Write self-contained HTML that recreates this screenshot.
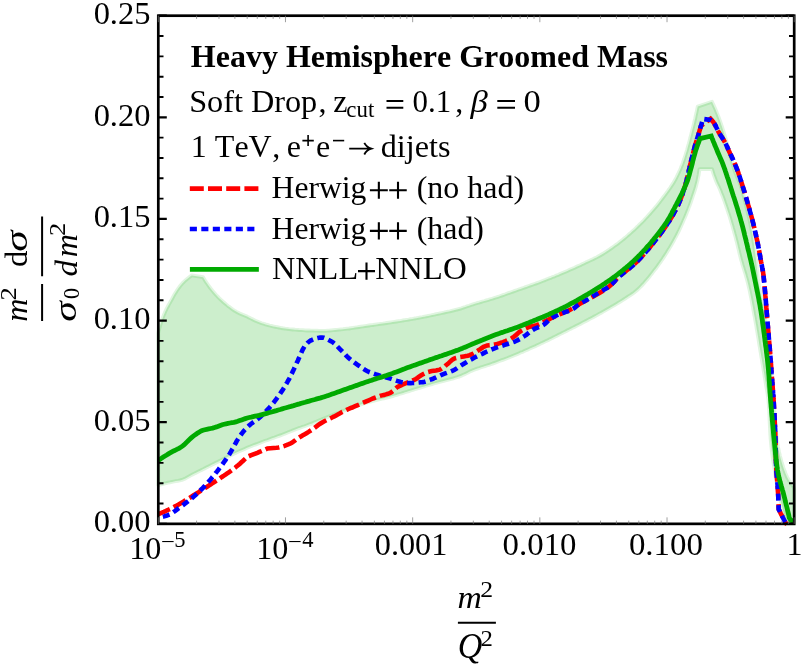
<!DOCTYPE html>
<html><head><meta charset="utf-8"><title>plot</title>
<style>html,body{margin:0;padding:0;background:#fff}svg{display:block;will-change:transform}text{font-kerning:none;font-family:"Liberation Serif",serif;fill:#000}</style></head>
<body>
<svg width="802" height="664" viewBox="0 0 802 664">
<rect width="802" height="664" fill="#fff"/>
<clipPath id="cp"><rect x="155.30" y="12.70" width="641.90" height="514.65"/></clipPath>
<g clip-path="url(#cp)">
<polygon points="158.3,333.0 158.7,331.0 159.2,329.0 159.8,327.0 160.3,325.0 161.0,323.0 161.6,321.1 162.3,319.1 163.0,317.2 163.7,315.3 164.5,313.4 165.3,311.5 166.2,309.7 167.1,307.8 168.1,306.0 169.1,304.2 170.1,302.4 171.1,300.6 172.1,298.8 173.1,296.9 174.1,295.1 175.2,293.3 176.3,291.6 177.4,289.8 178.6,288.1 179.8,286.5 181.0,284.9 182.3,283.4 183.8,282.0 185.2,280.6 186.8,279.2 188.4,277.9 190.1,276.6 191.8,275.4 203.1,277.2 204.1,278.9 205.2,280.7 206.3,282.4 207.4,284.0 208.6,285.7 209.7,287.3 211.0,288.9 212.2,290.4 213.5,292.0 214.8,293.5 216.1,295.0 217.5,296.4 218.9,297.9 220.4,299.3 221.8,300.6 223.3,302.0 224.8,303.3 226.4,304.6 227.9,305.9 229.5,307.1 231.1,308.3 232.7,309.5 234.4,310.6 236.1,311.6 237.9,312.6 239.7,313.4 241.5,314.2 243.4,315.0 245.2,315.8 247.1,316.6 248.9,317.5 250.7,318.4 252.5,319.3 254.3,320.2 256.1,321.1 257.9,321.8 259.8,322.5 261.7,323.2 263.6,323.8 265.5,324.4 267.4,324.9 269.4,325.5 271.3,325.9 273.3,326.4 275.2,326.8 277.2,327.2 279.2,327.6 281.2,328.0 283.1,328.3 285.1,328.6 287.1,328.8 289.1,329.1 291.1,329.3 293.1,329.5 295.1,329.7 297.1,329.8 299.1,330.0 301.1,330.1 303.1,330.2 305.1,330.4 307.1,330.5 309.1,330.5 311.1,330.6 313.1,330.6 315.1,330.7 317.1,330.7 319.1,330.8 321.1,330.8 323.1,330.8 325.1,330.8 327.1,330.7 329.1,330.6 331.1,330.4 333.1,330.2 335.1,330.0 337.1,329.8 339.1,329.6 341.1,329.4 343.1,329.2 345.1,328.9 347.1,328.7 349.1,328.5 351.1,328.2 353.1,327.9 355.0,327.6 357.0,327.3 359.0,327.0 361.0,326.7 363.0,326.4 365.0,326.1 366.9,325.8 368.9,325.5 370.9,325.2 372.9,325.0 374.9,324.7 376.9,324.4 378.9,324.1 380.8,323.8 382.8,323.6 384.8,323.3 386.8,323.0 388.8,322.7 390.8,322.4 392.7,322.1 394.7,321.8 396.7,321.5 398.7,321.2 400.7,320.9 402.7,320.5 404.6,320.2 406.6,319.9 408.6,319.6 410.6,319.2 412.5,318.9 414.5,318.5 416.5,318.2 418.5,317.8 420.4,317.4 422.4,317.1 424.4,316.7 426.3,316.3 428.3,315.9 430.3,315.5 432.2,315.1 434.2,314.7 436.2,314.2 438.1,313.8 440.1,313.4 442.0,313.0 444.0,312.6 446.0,312.1 447.9,311.7 449.9,311.3 451.8,310.8 453.8,310.3 455.7,309.8 457.7,309.3 459.6,308.8 461.5,308.3 463.4,307.6 465.3,307.0 467.2,306.3 469.1,305.7 471.0,305.0 472.9,304.4 474.8,303.8 476.7,303.2 478.7,302.7 480.6,302.1 482.5,301.5 484.5,301.0 486.4,300.4 488.3,299.9 490.2,299.3 492.2,298.7 494.1,298.1 496.0,297.5 497.9,296.9 499.8,296.3 501.7,295.6 503.6,294.9 505.5,294.3 507.3,293.6 509.2,292.9 511.1,292.2 513.0,291.6 514.9,290.9 516.8,290.2 518.7,289.5 520.6,288.9 522.5,288.2 524.4,287.6 526.3,286.9 528.1,286.2 530.0,285.6 531.9,284.9 533.8,284.2 535.7,283.6 537.6,282.9 539.5,282.2 541.3,281.5 543.2,280.8 545.1,280.1 547.0,279.3 548.8,278.6 550.7,277.9 552.6,277.1 554.4,276.4 556.3,275.6 558.1,274.9 560.0,274.1 561.8,273.3 563.7,272.5 565.5,271.7 567.4,270.9 569.2,270.1 571.0,269.3 572.9,268.5 574.7,267.7 576.5,266.8 578.3,266.0 580.2,265.2 582.0,264.3 583.8,263.5 585.6,262.6 587.4,261.8 589.2,260.9 591.1,260.0 592.9,259.2 594.7,258.3 596.5,257.4 598.2,256.5 600.0,255.5 601.7,254.5 603.4,253.5 605.1,252.4 606.8,251.3 608.5,250.2 610.1,249.1 611.8,247.9 613.4,246.7 615.1,245.5 616.7,244.4 618.3,243.2 619.8,241.9 621.4,240.7 623.0,239.5 624.5,238.2 626.1,236.9 627.6,235.6 629.1,234.3 630.7,232.9 632.1,231.6 633.6,230.3 635.1,228.9 636.5,227.5 638.0,226.1 639.4,224.7 640.8,223.3 642.3,221.9 643.7,220.5 645.0,219.0 646.4,217.5 647.8,216.1 649.1,214.6 650.5,213.1 651.8,211.6 653.1,210.1 654.4,208.5 655.7,207.0 657.0,205.5 658.2,203.9 659.5,202.3 660.7,200.7 661.9,199.1 663.1,197.5 664.3,195.9 665.5,194.3 666.7,192.7 667.9,191.1 669.0,189.4 670.2,187.8 671.3,186.1 672.4,184.4 673.5,182.7 674.5,181.0 675.5,179.3 676.4,177.5 677.3,175.7 678.2,173.9 679.0,172.1 679.9,170.2 680.7,168.4 681.4,166.5 682.2,164.7 682.9,162.8 683.5,160.9 684.2,159.0 684.8,157.1 685.4,155.2 686.0,153.3 686.6,151.4 687.2,149.5 687.7,147.5 688.2,145.6 688.8,143.6 689.3,141.7 689.8,139.8 690.3,137.8 690.8,135.9 691.3,134.0 691.8,132.0 692.3,130.1 692.8,128.1 693.3,126.2 693.8,124.2 694.3,122.3 694.7,120.3 695.2,118.4 695.6,116.4 696.0,114.5 696.5,112.5 696.9,110.5 697.3,108.6 697.7,106.6 712.0,101.7 712.8,103.5 713.7,105.4 714.5,107.2 715.3,109.0 716.1,110.9 716.8,112.7 717.6,114.6 718.3,116.5 719.0,118.3 719.7,120.2 720.4,122.1 721.0,124.0 721.7,125.9 722.3,127.8 722.9,129.7 723.5,131.6 724.1,133.5 724.6,135.4 725.2,137.4 725.8,139.3 726.4,141.2 726.9,143.1 727.4,145.1 728.0,147.0 728.5,148.9 729.0,150.9 729.5,152.8 730.0,154.7 730.5,156.7 731.0,158.6 731.6,160.6 732.1,162.5 732.7,164.4 733.2,166.3 733.8,168.2 734.4,170.1 735.1,172.0 735.8,173.9 736.6,175.8 737.3,177.6 738.1,179.5 738.9,181.3 739.6,183.2 740.3,185.1 741.0,186.9 741.6,188.8 742.2,190.8 742.7,192.7 743.3,194.6 743.8,196.5 744.3,198.5 744.8,200.4 745.3,202.4 745.7,204.3 746.2,206.3 746.7,208.2 747.1,210.2 747.6,212.1 748.1,214.1 748.6,216.0 749.0,218.0 749.5,219.9 749.9,221.9 750.3,223.8 750.7,225.8 751.1,227.8 751.5,229.7 751.9,231.7 752.2,233.7 752.6,235.6 752.9,237.6 753.2,239.6 753.5,241.6 753.8,243.5 754.1,245.5 754.4,247.5 754.7,249.5 754.9,251.5 755.2,253.5 755.4,255.5 755.7,257.4 755.9,259.4 756.2,261.4 756.4,263.4 756.6,265.4 756.8,267.4 757.0,269.4 757.2,271.4 757.4,273.4 757.6,275.4 757.8,277.4 758.0,279.4 758.3,281.3 758.7,283.3 759.0,285.3 759.4,287.2 759.8,289.2 760.2,291.2 760.6,293.1 761.0,295.1 761.4,297.1 761.8,299.0 762.2,301.0 762.6,303.0 763.0,304.9 763.3,306.9 763.6,308.9 764.0,310.8 764.3,312.8 764.6,314.8 764.9,316.8 765.2,318.8 765.5,320.8 765.7,322.7 766.0,324.7 766.3,326.7 766.6,328.7 766.8,330.7 767.1,332.7 767.3,334.7 767.6,336.6 767.8,338.6 768.1,340.6 768.3,342.6 768.5,344.6 768.8,346.6 769.0,348.6 769.2,350.6 769.4,352.6 769.6,354.6 769.8,356.5 770.0,358.5 770.2,360.5 770.4,362.5 770.6,364.5 770.8,366.5 771.0,368.5 771.1,370.5 771.3,372.5 771.5,374.5 771.6,376.5 771.8,378.5 772.0,380.5 772.1,382.5 772.3,384.5 772.4,386.5 772.6,388.5 772.7,390.5 772.9,392.5 773.1,394.5 773.2,396.5 773.4,398.5 773.5,400.5 773.7,402.5 773.9,404.4 774.0,406.4 774.2,408.4 774.3,410.4 774.5,412.4 774.6,414.4 774.8,416.4 774.9,418.4 775.1,420.4 775.3,422.4 775.4,424.4 775.6,426.4 775.8,428.4 776.0,430.4 776.2,432.4 776.4,434.4 776.6,436.4 776.8,438.4 777.0,440.4 777.3,442.3 777.6,444.3 777.9,446.3 778.3,448.3 778.7,450.2 779.1,452.2 779.6,454.2 780.0,456.1 780.5,458.1 781.1,460.1 781.6,462.0 782.2,463.9 782.8,465.9 783.4,467.8 784.1,469.7 784.8,471.5 785.5,473.4 786.3,475.2 787.0,477.0 788.0,478.7 789.0,480.5 790.0,482.1 791.2,483.8 792.4,485.5 793.6,487.1 794.2,488.9 794.2,490.7 794.2,492.5 794.2,494.4 794.2,496.3 794.2,498.2 794.2,500.2 794.2,502.1 794.2,504.1 794.2,506.2 794.2,508.2 794.2,510.3 794.2,512.5 794.2,514.7 794.2,516.9 794.2,519.2 794.2,521.5 794.2,523.9 786.0,523.9 785.6,521.9 785.2,519.9 784.8,517.9 784.3,516.0 783.9,514.0 783.5,512.1 783.0,510.1 782.6,508.1 782.1,506.2 781.6,504.2 781.0,502.3 780.5,500.4 780.0,498.4 779.5,496.5 779.0,494.5 778.6,492.6 778.1,490.6 777.7,488.6 777.3,486.7 777.0,484.7 776.6,482.7 776.3,480.7 775.9,478.8 775.6,476.8 775.3,474.8 775.0,472.8 774.7,470.8 774.4,468.8 774.1,466.8 773.8,464.8 773.5,462.9 773.2,460.9 772.9,458.9 772.6,456.9 772.4,454.9 772.1,452.9 771.8,450.9 771.6,448.9 771.4,446.9 771.2,444.9 771.0,442.9 770.8,440.9 770.6,438.9 770.5,436.9 770.3,434.9 770.2,432.9 770.1,430.9 770.0,428.9 769.9,426.9 769.8,424.9 769.7,422.9 769.6,420.8 769.5,418.8 769.5,416.8 769.4,414.8 769.3,412.8 769.2,410.8 769.0,408.8 768.9,406.8 768.8,404.8 768.6,402.8 768.5,400.8 768.3,398.8 768.0,396.8 767.7,394.8 767.4,392.8 767.1,390.8 766.7,388.9 766.3,386.9 766.0,384.9 765.7,382.9 765.4,380.9 765.1,378.9 764.7,377.0 764.4,375.0 764.1,373.0 763.7,371.0 763.4,369.0 763.1,367.1 762.8,365.1 762.4,363.1 762.1,361.1 761.8,359.1 761.4,357.1 761.1,355.2 760.8,353.2 760.4,351.2 760.1,349.2 759.8,347.2 759.4,345.2 759.1,343.3 758.8,341.3 758.5,339.3 758.2,337.3 757.8,335.3 757.5,333.3 757.2,331.4 756.8,329.4 756.5,327.4 756.2,325.4 755.8,323.4 755.5,321.5 755.1,319.5 754.8,317.5 754.4,315.5 754.0,313.5 753.7,311.6 753.3,309.6 753.0,307.6 752.6,305.6 752.2,303.7 751.9,301.7 751.5,299.7 751.1,297.7 750.7,295.8 750.3,293.8 749.9,291.8 749.5,289.9 749.0,287.9 748.6,285.9 748.1,284.0 747.6,282.0 747.1,280.1 746.6,278.2 746.0,276.2 745.5,274.3 744.9,272.4 744.3,270.5 743.7,268.5 743.1,266.6 742.5,264.7 742.0,262.8 741.4,260.8 740.9,258.9 740.4,256.9 739.9,255.0 739.4,253.0 739.0,251.1 738.5,249.1 738.0,247.2 737.6,245.2 737.1,243.3 736.6,241.3 736.1,239.4 735.6,237.4 735.1,235.5 734.5,233.5 734.0,231.6 733.5,229.7 732.9,227.7 732.4,225.8 731.8,223.9 731.2,221.9 730.7,220.0 730.1,218.1 729.5,216.2 728.9,214.3 728.2,212.3 727.6,210.4 727.0,208.5 726.3,206.6 725.7,204.7 725.0,202.8 724.4,200.9 723.7,199.0 723.0,197.1 722.3,195.3 721.5,193.4 720.8,191.5 720.1,189.7 719.2,187.8 718.4,186.0 717.5,184.2 716.7,182.4 715.9,180.5 715.2,178.6 714.5,176.8 713.8,174.9 713.2,173.0 712.6,171.0 712.0,169.1 699.5,169.1 699.2,171.1 698.9,173.1 698.6,175.1 698.2,177.0 697.8,179.0 697.4,180.9 696.9,182.9 696.4,184.8 695.9,186.7 695.3,188.7 694.7,190.6 694.1,192.5 693.4,194.4 692.8,196.3 692.2,198.2 691.5,200.1 690.9,202.0 690.2,203.9 689.5,205.8 688.8,207.6 688.1,209.5 687.3,211.4 686.6,213.2 685.9,215.1 685.1,217.0 684.3,218.8 683.5,220.6 682.7,222.5 681.9,224.3 681.1,226.1 680.2,227.9 679.4,229.8 678.5,231.6 677.6,233.4 676.7,235.2 675.8,236.9 674.8,238.7 673.9,240.5 672.9,242.2 671.9,244.0 670.9,245.7 669.9,247.4 668.9,249.1 667.8,250.8 666.8,252.5 665.7,254.2 664.6,255.9 663.5,257.6 662.4,259.3 661.2,260.9 660.1,262.6 658.9,264.2 657.7,265.9 656.6,267.5 655.4,269.1 654.1,270.6 652.9,272.2 651.7,273.8 650.4,275.4 649.2,277.0 647.9,278.5 646.6,280.1 645.3,281.6 643.9,283.2 642.6,284.6 641.2,286.1 639.8,287.5 638.4,288.9 636.9,290.2 635.4,291.5 633.9,292.7 632.2,293.9 630.6,295.0 628.9,296.1 627.2,297.2 625.5,298.3 623.8,299.4 622.1,300.5 620.4,301.6 618.7,302.6 617.0,303.7 615.3,304.7 613.6,305.7 611.8,306.7 610.1,307.7 608.4,308.7 606.6,309.7 604.9,310.7 603.1,311.7 601.4,312.7 599.6,313.6 597.9,314.6 596.1,315.6 594.4,316.5 592.6,317.5 590.8,318.4 589.0,319.3 587.3,320.3 585.5,321.2 583.7,322.1 581.9,323.1 580.2,324.0 578.4,324.9 576.6,325.8 574.8,326.7 573.0,327.6 571.2,328.5 569.4,329.4 567.6,330.3 565.9,331.2 564.1,332.1 562.3,333.0 560.5,333.9 558.7,334.8 556.9,335.7 555.1,336.6 553.3,337.5 551.5,338.4 549.7,339.3 547.9,340.2 546.1,341.0 544.3,341.9 542.5,342.8 540.7,343.6 538.9,344.5 537.1,345.3 535.3,346.2 533.4,347.0 531.6,347.8 529.8,348.6 527.9,349.5 526.1,350.3 524.3,351.1 522.4,351.9 520.6,352.6 518.7,353.4 516.9,354.2 515.0,355.0 513.2,355.7 511.3,356.5 509.5,357.2 507.6,358.0 505.7,358.7 503.9,359.4 502.0,360.1 500.1,360.8 498.2,361.5 496.4,362.2 494.5,362.9 492.6,363.6 490.7,364.2 488.8,364.9 486.9,365.5 485.0,366.1 483.1,366.7 481.2,367.3 479.3,368.0 477.4,368.6 475.5,369.3 473.6,370.0 471.8,370.8 469.9,371.6 468.1,372.5 466.3,373.4 464.5,374.3 462.7,375.1 460.9,375.9 459.0,376.6 457.1,377.2 455.2,377.8 453.3,378.4 451.4,378.9 449.4,379.4 447.5,379.9 445.5,380.4 443.6,380.9 441.6,381.4 439.7,381.9 437.7,382.4 435.8,383.0 433.9,383.5 432.0,384.1 430.0,384.7 428.1,385.2 426.2,385.8 424.3,386.4 422.4,387.0 420.5,387.6 418.5,388.2 416.6,388.7 414.7,389.3 412.8,389.9 410.9,390.5 409.0,391.1 407.0,391.7 405.1,392.3 403.2,392.9 401.3,393.5 399.4,394.0 397.5,394.6 395.5,395.2 393.6,395.8 391.7,396.3 389.8,396.8 387.8,397.3 385.9,397.8 383.9,398.3 382.0,398.7 380.0,399.2 378.1,399.7 376.1,400.1 374.2,400.6 372.2,401.1 370.3,401.6 368.4,402.1 366.4,402.7 364.5,403.3 362.6,403.9 360.7,404.5 358.8,405.2 356.9,405.8 355.1,406.5 353.2,407.2 351.3,407.9 349.4,408.6 347.5,409.3 345.7,410.0 343.8,410.7 341.9,411.4 340.0,412.2 338.2,412.9 336.3,413.6 334.4,414.3 332.6,415.1 330.7,415.8 328.9,416.6 327.0,417.3 325.1,418.1 323.3,418.8 321.4,419.6 319.6,420.3 317.7,421.1 315.9,421.9 314.0,422.6 312.2,423.4 310.3,424.1 308.4,424.8 306.5,425.5 304.6,426.2 302.7,426.8 300.8,427.5 299.0,428.1 297.1,428.8 295.2,429.5 293.3,430.2 291.5,431.0 289.6,431.7 287.7,432.5 285.9,433.2 284.0,434.0 282.2,434.7 280.3,435.4 278.4,436.1 276.5,436.8 274.6,437.5 272.7,438.1 270.9,438.8 269.0,439.5 267.1,440.2 265.2,440.8 263.3,441.5 261.4,442.2 259.6,442.9 257.7,443.7 255.8,444.4 254.0,445.1 252.1,445.8 250.2,446.6 248.4,447.3 246.5,448.1 244.7,448.9 242.8,449.7 241.0,450.5 239.2,451.3 237.4,452.1 235.5,453.0 233.7,453.8 231.9,454.7 230.1,455.6 228.3,456.5 226.5,457.4 224.8,458.3 223.0,459.2 221.2,460.1 219.4,461.0 217.6,461.9 215.8,462.8 214.0,463.7 212.2,464.6 210.4,465.5 208.6,466.4 206.8,467.3 205.0,468.2 203.3,469.1 201.5,470.0 199.7,470.9 197.9,471.8 196.1,472.7 194.3,473.6 192.5,474.5 190.7,475.4 189.0,476.4 187.2,477.4 185.4,478.4 183.6,479.2 181.8,479.9 179.9,480.4 177.9,480.8 175.9,481.1 173.9,481.5 172.0,481.9 170.0,482.3 168.0,482.7 166.1,483.2 164.1,483.6 162.2,484.1 160.2,484.6 158.3,485.1" fill="#00aa00" fill-opacity="0.2" stroke="#00aa00" stroke-opacity="0.12" stroke-width="3.8" stroke-linejoin="round"/>
<polyline points="158.3,514.2 160.2,513.4 162.0,512.7 163.9,511.9 165.7,511.0 167.5,510.2 169.3,509.3 171.1,508.5 172.9,507.6 174.7,506.6 176.4,505.7 178.2,504.7 179.9,503.7 181.6,502.7 183.4,501.6 185.1,500.6 186.8,499.6 188.5,498.5 190.2,497.5 191.9,496.4 193.6,495.3 195.3,494.3 197.0,493.2 198.7,492.1 200.3,491.0 202.0,489.9 203.7,488.8 205.4,487.7 207.1,486.7 208.8,485.6 210.5,484.5 212.2,483.4 213.9,482.3 215.5,481.3 217.2,480.2 218.9,479.1 220.5,477.9 222.2,476.8 223.9,475.7 225.5,474.6 227.2,473.4 228.8,472.3 230.5,471.1 232.1,469.9 233.7,468.7 235.3,467.5 236.8,466.3 238.4,465.0 239.9,463.7 241.4,462.3 242.9,461.0 244.3,459.6 245.8,458.2 247.2,456.8 249.2,456.0 251.3,455.2 253.3,454.4 255.4,453.6 257.4,452.8 259.4,451.9 261.4,451.1 263.5,450.2 265.5,449.4 267.5,448.5 276.6,447.8 278.6,447.5 280.6,447.0 282.6,446.5 284.5,445.9 286.4,445.2 288.2,444.5 290.0,443.7 291.8,442.8 293.4,441.7 295.1,440.5 296.7,439.3 298.3,438.1 300.0,437.0 301.7,436.0 303.4,434.9 305.2,433.9 306.9,432.9 308.6,431.9 310.3,430.8 312.0,429.7 313.6,428.5 315.2,427.3 316.8,426.1 318.4,424.9 320.1,423.8 321.8,422.7 323.5,421.7 325.3,420.8 327.1,419.9 328.9,419.0 330.7,418.2 332.5,417.3 334.3,416.4 336.1,415.4 337.8,414.5 339.6,413.5 341.3,412.5 343.1,411.6 344.9,410.7 346.7,409.8 348.5,409.0 350.4,408.2 352.2,407.5 354.1,406.7 355.9,405.9 357.8,405.1 359.6,404.3 361.4,403.5 363.3,402.7 365.1,401.9 366.9,401.1 368.8,400.3 370.6,399.5 372.5,398.7 374.3,398.0 376.2,397.3 378.1,396.6 380.0,395.9 381.9,395.4 383.9,394.9 385.9,394.4 387.8,393.8 389.7,393.1 391.3,392.3 392.9,391.0 394.4,389.6 395.9,388.2 397.5,387.0 399.2,386.1 401.1,385.3 402.9,384.5 404.8,383.7 406.6,382.9 408.5,382.2 410.4,381.4 412.3,380.7 414.1,379.9 415.9,379.0 417.5,377.9 419.1,376.6 420.8,375.5 422.5,374.5 424.3,373.6 426.1,372.7 428.0,372.0 429.9,371.5 431.9,371.1 433.9,370.8 436.0,370.5 437.9,370.1 439.8,369.6 441.5,368.8 443.2,367.7 444.8,366.4 446.3,365.0 447.9,363.8 449.4,362.3 450.9,360.9 452.4,359.6 454.1,358.7 455.9,358.0 457.9,357.5 459.9,357.0 461.9,356.7 463.9,356.4 465.9,356.1 467.8,355.8 469.7,355.2 471.5,354.4 473.3,353.4 475.0,352.4 476.8,351.4 478.5,350.3 480.2,349.2 481.9,348.0 483.6,346.9 485.4,346.1 487.2,345.6 489.2,345.2 491.2,345.0 493.2,344.7 495.2,344.4 497.2,344.0 499.1,343.4 501.0,342.8 502.9,342.2 504.8,341.5 506.6,340.7 508.5,339.9 510.3,339.0 512.0,338.0 513.7,336.9 515.3,335.7 516.8,334.3 518.2,332.9 519.8,331.7 521.5,330.6 523.2,329.6 525.0,328.7 526.9,327.8 528.7,327.1 530.6,326.6 532.6,326.2 534.6,325.8 536.5,325.2 538.4,324.5 540.2,323.7 542.0,322.8 543.8,321.9 545.6,321.0 547.4,320.2 549.2,319.2 551.0,318.3 552.8,317.4 554.6,316.5 556.4,315.7 558.2,314.9 560.1,314.1 561.9,313.3 563.7,312.5 565.6,311.7 567.5,311.0 569.3,310.2 571.1,309.3 572.9,308.4 574.6,307.3 576.2,306.1 577.9,305.0 579.6,303.9 581.3,303.0 583.1,302.0 584.8,301.1 586.6,300.2 588.4,299.2 590.2,298.3 591.9,297.3 593.7,296.3 595.4,295.3 597.2,294.3 598.9,293.3 600.6,292.2 602.3,291.2 604.0,290.1 605.7,289.0 607.3,287.9 608.9,286.7 610.5,285.4 611.9,284.0 613.3,282.6 614.7,281.1 616.0,279.6 617.4,278.2 618.9,276.8 620.4,275.5 621.9,274.2 623.5,272.9 625.0,271.7 626.6,270.4 628.2,269.2 629.8,267.9 631.4,266.7 632.9,265.4 634.4,264.1 635.9,262.7 637.3,261.3 638.7,259.9 640.1,258.5 641.4,257.0 642.8,255.5 644.1,254.0 645.4,252.5 646.7,251.0 648.0,249.4 649.3,247.9 650.6,246.3 651.8,244.7 653.1,243.2 654.3,241.6 655.6,240.1 656.8,238.5 658.1,236.9 659.3,235.3 660.5,233.7 661.7,232.1 662.8,230.5 664.0,228.8 665.2,227.2 666.3,225.5 667.4,223.9 668.5,222.2 669.6,220.5 670.6,218.8 671.7,217.1 672.7,215.3 673.7,213.6 674.6,211.8 675.6,210.1 676.5,208.3 677.4,206.5 678.3,204.7 679.1,202.9 679.9,201.0 680.6,199.2 681.3,197.3 682.0,195.4 682.7,193.5 683.3,191.6 683.9,189.7 684.5,187.8 685.1,185.9 685.6,183.9 686.2,182.0 686.7,180.1 687.1,178.1 687.6,176.2 688.1,174.2 688.5,172.3 688.9,170.3 689.4,168.3 689.8,166.4 690.3,164.4 690.8,162.5 691.2,160.5 691.7,158.6 692.2,156.6 692.7,154.7 693.2,152.7 693.7,150.8 694.2,148.9 694.7,146.9 695.2,145.0 695.8,143.1 696.4,141.2 697.0,139.2 697.6,137.3 698.2,135.4 698.8,133.5 699.3,131.6 699.9,129.7 700.4,127.7 701.0,125.8 705.2,122.6 710.5,118.9 711.9,120.4 713.2,121.9 714.3,123.6 715.2,125.3 716.1,127.1 717.0,128.9 717.9,130.7 718.9,132.5 719.9,134.2 721.0,135.9 722.1,137.6 723.2,139.3 724.2,141.0 725.2,142.7 726.1,144.5 726.9,146.3 727.7,148.2 728.5,150.0 729.4,151.9 730.2,153.7 731.1,155.5 731.9,157.3 732.8,159.1 733.6,160.9 734.4,162.8 735.2,164.6 735.9,166.5 736.7,168.4 737.4,170.2 738.1,172.1 738.7,174.0 739.4,175.9 740.0,177.8 740.6,179.7 741.2,181.6 741.8,183.5 742.4,185.5 743.0,187.4 743.6,189.3 744.2,191.2 744.8,193.1 745.3,195.1 745.9,197.0 746.5,198.9 747.0,200.8 747.6,202.8 748.1,204.7 748.7,206.6 749.2,208.5 749.8,210.5 750.3,212.4 750.8,214.3 751.4,216.3 751.9,218.2 752.4,220.2 752.9,222.1 753.4,224.0 753.8,226.0 754.3,227.9 754.8,229.9 755.2,231.9 755.7,233.8 756.1,235.8 756.5,237.7 757.0,239.7 757.4,241.6 757.8,243.6 758.2,245.6 758.5,247.6 758.9,249.5 759.3,251.5 759.6,253.5 760.0,255.4 760.3,257.4 760.7,259.4 761.0,261.4 761.4,263.3 761.8,265.3 762.2,267.3 762.5,269.3 762.9,271.2 763.2,273.2 763.4,275.2 763.7,277.2 763.9,279.2 764.1,281.2 764.3,283.2 764.5,285.2 764.6,287.2 764.8,289.2 765.0,291.2 765.2,293.2 765.3,295.2 765.5,297.2 765.7,299.2 765.8,301.2 766.0,303.2 766.2,305.2 766.3,307.2 766.5,309.2 766.6,311.2 766.8,313.2 767.0,315.2 767.1,317.2 767.3,319.2 767.4,321.2 767.6,323.2 767.8,325.2 767.9,327.1 768.1,329.1 768.3,331.1 768.4,333.1 768.6,335.1 768.8,337.1 769.0,339.1 769.1,341.1 769.3,343.1 769.5,345.1 769.7,347.1 769.8,349.1 770.0,351.1 770.1,353.1 770.3,355.1 770.5,357.1 770.6,359.1 770.7,361.1 770.9,363.1 771.0,365.1 771.2,367.1 771.3,369.1 771.5,371.1 771.6,373.1 771.7,375.1 771.9,377.1 772.0,379.1 772.2,381.1 772.3,383.1 772.5,385.1 772.7,387.1 772.8,389.1 773.0,391.1 773.1,393.1 773.3,395.1 773.4,397.1 773.5,399.1 773.7,401.1 773.8,403.1 773.9,405.1 774.0,407.1 774.1,409.1 774.2,411.1 774.3,413.1 774.4,415.1 774.5,417.2 774.6,419.2 774.7,421.2 774.8,423.2 774.9,425.2 775.0,427.2 775.1,429.2 775.2,431.2 775.3,433.2 775.3,435.2 775.4,437.2 775.5,439.2 775.5,441.2 775.6,443.2 775.6,445.2 775.7,447.2 775.7,449.2 775.8,451.2 775.8,453.2 775.9,455.2 775.9,457.2 775.9,459.2 776.0,461.3 776.0,463.3 776.1,465.3 776.2,467.3 776.3,469.3 776.4,471.3 776.5,473.3 776.7,475.3 776.9,477.3 777.1,479.3 777.3,481.3 777.4,483.3 777.6,485.3 777.7,487.3 777.8,489.3 777.9,491.3 778.1,493.3 778.2,495.3 778.3,497.3 778.3,499.3 778.4,501.3 778.5,503.3 778.6,505.3 778.6,507.3 778.7,509.3 779.7,511.2 780.6,513.2 781.6,515.1 782.6,517.1 783.6,519.0 784.6,520.9 785.7,522.8 787.0,524.5" fill="none" stroke="#ff0000" stroke-width="4.6" stroke-dasharray="14 4.2" stroke-dashoffset="1.3" stroke-linejoin="miter"/>
<polyline points="158.3,517.6 160.3,517.3 162.3,516.9 164.3,516.4 166.2,515.8 168.0,515.1 169.8,514.4 171.5,513.4 173.2,512.3 174.9,511.1 176.5,509.9 178.1,508.6 179.7,507.5 181.4,506.3 183.0,505.1 184.6,503.9 186.2,502.7 187.8,501.5 189.4,500.2 190.9,498.9 192.5,497.7 194.0,496.4 195.5,495.0 197.0,493.7 198.4,492.3 199.9,490.9 201.3,489.5 202.7,488.1 204.1,486.6 205.4,485.2 206.8,483.7 208.1,482.2 209.4,480.7 210.8,479.2 212.0,477.6 213.3,476.1 214.6,474.5 215.8,472.9 217.1,471.4 218.3,469.8 219.5,468.2 220.7,466.6 221.9,465.0 223.1,463.3 224.3,461.7 225.4,460.1 226.5,458.4 227.7,456.8 228.8,455.1 229.9,453.4 230.9,451.7 231.9,449.9 232.9,448.2 233.8,446.4 234.8,444.6 235.8,442.9 236.7,441.1 237.8,439.4 238.8,437.7 239.9,436.1 241.1,434.5 242.3,432.9 243.6,431.3 244.9,429.8 246.3,428.3 247.7,426.8 249.1,425.5 250.6,424.2 252.2,423.0 253.9,421.8 255.5,420.7 257.1,419.5 258.7,418.2 260.2,416.9 261.7,415.6 263.1,414.2 264.5,412.7 265.9,411.3 267.3,409.8 268.7,408.4 270.0,406.9 271.3,405.4 272.6,403.8 273.9,402.3 275.1,400.7 276.3,399.1 277.5,397.5 278.7,395.8 279.8,394.2 280.9,392.5 282.0,390.9 283.1,389.2 284.2,387.5 285.2,385.7 286.2,384.0 287.2,382.3 288.2,380.5 289.2,378.8 290.1,377.0 291.0,375.2 291.9,373.4 292.7,371.6 293.6,369.8 294.4,368.0 295.3,366.1 296.1,364.3 296.9,362.5 297.8,360.7 298.6,358.8 299.5,357.0 300.3,355.2 301.1,353.3 301.9,351.4 302.7,349.6 303.7,347.8 304.7,346.2 305.9,344.6 307.3,343.1 308.9,341.7 310.5,340.6 312.2,339.8 314.1,339.0 316.0,338.4 318.1,337.9 320.1,337.6 322.0,337.5 323.9,337.8 325.9,338.5 327.8,339.4 329.6,340.4 331.4,341.4 333.0,342.4 334.5,343.6 336.0,345.0 337.4,346.5 338.8,348.0 340.2,349.4 341.7,350.8 343.1,352.3 344.5,353.7 345.8,355.2 347.2,356.6 348.7,358.0 350.2,359.3 351.7,360.6 353.3,361.8 354.9,363.0 356.6,364.2 358.2,365.3 359.9,366.4 361.5,367.6 363.2,368.7 364.9,369.8 366.6,370.8 368.4,371.7 370.2,372.4 372.1,373.1 374.0,373.8 375.9,374.4 377.9,375.0 379.8,375.6 381.7,376.2 383.6,376.7 385.6,377.2 387.5,377.8 389.4,378.3 391.3,378.9 393.2,379.6 395.1,380.2 397.0,380.9 399.0,381.4 400.9,381.9 402.9,382.3 404.9,382.7 406.8,383.0 408.8,383.1 410.8,383.1 412.8,383.0 414.9,382.9 416.9,382.7 418.9,382.5 420.9,382.3 422.8,382.1 424.7,381.7 426.7,381.1 428.6,380.4 430.5,379.7 432.4,379.0 434.2,378.2 436.1,377.5 437.9,376.6 439.7,375.8 441.5,374.9 443.4,374.1 445.2,373.4 447.1,372.7 449.0,372.0 450.9,371.4 452.8,370.6 454.6,369.8 456.3,368.7 457.9,367.6 459.6,366.4 461.3,365.3 463.0,364.3 464.7,363.2 466.4,362.2 468.1,361.2 469.8,360.1 471.6,359.2 473.3,358.2 475.1,357.3 476.9,356.4 478.7,355.5 480.5,354.6 482.3,353.8 484.1,352.9 485.9,352.0 487.7,351.2 489.6,350.3 491.4,349.5 493.3,348.8 495.1,348.1 497.0,347.4 498.9,346.8 500.8,346.2 502.8,345.6 504.7,344.9 506.6,344.3 508.5,343.7 510.4,343.1 512.3,342.5 514.2,341.8 516.0,341.0 517.8,340.1 519.6,339.1 521.3,338.1 523.0,337.0 524.7,335.9 526.3,334.8 527.9,333.5 529.5,332.2 531.0,331.0 532.7,329.9 534.4,328.9 536.2,328.1 538.1,327.4 540.0,326.7 541.9,325.9 543.5,324.9 545.1,323.7 546.6,322.3 548.1,320.9 549.6,319.5 551.2,318.3 552.9,317.3 554.6,316.4 556.5,315.5 558.3,314.7 560.2,313.9 562.0,313.2 563.9,312.5 565.8,311.8 567.8,311.2 569.7,310.6 571.5,309.8 573.2,308.9 574.8,307.7 576.3,306.3 577.9,305.0 579.6,303.9 581.3,302.9 583.0,301.9 584.8,300.9 586.5,300.0 588.3,299.0 590.0,298.0 591.7,296.9 593.4,295.9 595.2,294.9 596.9,293.8 598.6,292.8 600.3,291.7 602.1,290.7 603.8,289.8 605.6,288.7 607.3,287.7 608.9,286.6 610.5,285.4 611.9,284.1 613.3,282.6 614.7,281.1 616.0,279.6 617.4,278.1 618.9,276.8 620.4,275.5 621.9,274.2 623.5,272.9 625.1,271.7 626.7,270.4 628.2,269.2 629.8,267.9 631.4,266.7 632.9,265.4 634.4,264.1 635.9,262.7 637.3,261.3 638.7,259.9 640.1,258.5 641.4,257.0 642.8,255.5 644.1,254.0 645.4,252.5 646.7,250.9 648.0,249.4 649.3,247.8 650.6,246.3 651.8,244.7 653.1,243.2 654.4,241.6 655.6,240.0 656.8,238.5 658.1,236.9 659.3,235.3 660.5,233.7 661.7,232.1 662.9,230.4 664.0,228.8 665.2,227.2 666.3,225.5 667.4,223.8 668.5,222.2 669.6,220.5 670.6,218.8 671.7,217.0 672.7,215.3 673.7,213.6 674.6,211.8 675.6,210.1 676.5,208.3 677.4,206.5 678.3,204.7 679.1,202.9 679.9,201.0 680.6,199.2 681.4,197.3 682.0,195.4 682.7,193.5 683.3,191.6 683.9,189.7 684.5,187.8 685.1,185.8 685.6,183.9 686.2,182.0 686.7,180.0 687.1,178.1 687.6,176.2 688.1,174.2 688.5,172.2 688.9,170.3 689.4,168.3 689.8,166.4 690.3,164.4 690.8,162.5 691.2,160.5 691.7,158.6 692.2,156.6 692.7,154.7 693.2,152.7 693.7,150.8 694.2,148.9 694.7,146.9 695.2,145.0 695.8,143.1 696.4,141.2 697.0,139.2 697.6,137.3 698.2,135.4 698.8,133.5 699.3,131.6 699.9,129.7 700.4,127.7 701.0,125.8 702.9,118.9 710.5,120.0 712.2,121.2 713.6,122.5 714.7,124.1 715.7,125.8 716.5,127.7 717.4,129.5 718.3,131.4 719.2,133.1 720.3,134.8 721.4,136.5 722.5,138.2 723.6,139.9 724.6,141.6 725.5,143.4 726.4,145.2 727.2,147.0 728.0,148.8 728.8,150.7 729.7,152.5 730.5,154.3 731.4,156.1 732.2,157.9 733.1,159.7 733.9,161.6 734.7,163.4 735.4,165.2 736.2,167.1 736.9,169.0 737.6,170.9 738.3,172.7 738.9,174.6 739.6,176.5 740.2,178.4 740.8,180.3 741.4,182.2 742.0,184.1 742.6,186.1 743.2,188.0 743.8,189.9 744.4,191.8 745.0,193.7 745.5,195.6 746.1,197.6 746.6,199.5 747.2,201.4 747.7,203.3 748.3,205.3 748.8,207.2 749.4,209.1 749.9,211.0 750.4,213.0 751.0,214.9 751.5,216.8 752.0,218.8 752.5,220.7 753.0,222.6 753.5,224.6 754.0,226.5 754.4,228.5 754.9,230.4 755.3,232.4 755.8,234.3 756.2,236.3 756.7,238.2 757.1,240.2 757.5,242.2 757.9,244.1 758.3,246.1 758.6,248.0 759.0,250.0 759.4,252.0 759.7,254.0 760.1,255.9 760.4,257.9 760.8,259.9 761.1,261.8 761.5,263.8 761.9,265.8 762.2,267.7 762.6,269.7 762.9,271.7 763.2,273.7 763.5,275.6 763.7,277.6 763.9,279.6 764.1,281.6 764.3,283.6 764.5,285.6 764.7,287.6 764.9,289.6 765.0,291.6 765.2,293.6 765.4,295.6 765.5,297.6 765.7,299.6 765.9,301.6 766.0,303.6 766.2,305.5 766.4,307.5 766.5,309.5 766.7,311.5 766.8,313.5 767.0,315.5 767.2,317.5 767.3,319.5 767.5,321.5 767.6,323.5 767.8,325.5 768.0,327.5 768.1,329.5 768.3,331.5 768.5,333.5 768.7,335.5 768.8,337.5 769.0,339.5 769.2,341.5 769.3,343.5 769.5,345.4 769.7,347.4 769.8,349.4 770.0,351.4 770.2,353.4 770.3,355.4 770.5,357.4 770.6,359.4 770.8,361.4 770.9,363.4 771.1,365.4 771.2,367.4 771.3,369.4 771.5,371.4 771.6,373.4 771.8,375.4 771.9,377.4 772.1,379.4 772.2,381.4 772.4,383.4 772.5,385.4 772.7,387.4 772.8,389.4 773.0,391.4 773.1,393.4 773.3,395.3 773.4,397.3 773.6,399.3 773.7,401.3 773.8,403.3 773.9,405.3 774.0,407.3 774.1,409.3 774.2,411.3 774.3,413.3 774.5,415.3 774.6,417.3 774.7,419.3 774.7,421.3 774.8,423.3 774.9,425.3 775.0,427.3 775.1,429.3 775.2,431.3 775.3,433.3 775.3,435.3 775.4,437.3 775.5,439.3 775.5,441.3 775.6,443.3 775.6,445.3 775.7,447.3 775.7,449.3 775.8,451.3 775.8,453.3 775.9,455.3 775.9,457.3 775.9,459.3 776.0,461.3 776.0,463.3 776.1,465.3 776.2,467.3 776.3,469.3 776.4,471.3 776.6,473.3 776.7,475.3 776.9,477.3 777.1,479.3 777.3,481.3 777.4,483.3 777.6,485.3 777.7,487.3 777.8,489.3 777.9,491.3 778.1,493.3 778.2,495.3 778.3,497.3 778.3,499.3 778.4,501.3 778.5,503.3 778.6,505.3 778.6,507.3 778.7,509.3 779.7,511.2 780.6,513.2 781.6,515.1 782.6,517.1 783.6,519.0 784.6,520.9 785.7,522.8 787.0,524.5" fill="none" stroke="#0000ff" stroke-width="4.6" stroke-dasharray="7.1 4.4" stroke-dashoffset="6.9" stroke-linejoin="miter"/>
<polyline points="158.3,460.5 160.0,459.4 161.6,458.2 163.3,457.1 165.0,456.0 166.7,455.0 168.4,453.9 170.1,452.9 171.9,451.9 173.6,451.0 175.5,450.1 177.3,449.2 179.0,448.3 180.7,447.3 182.4,446.2 183.9,444.9 185.4,443.5 186.8,442.1 188.2,440.7 189.7,439.3 191.2,437.9 192.7,436.6 194.3,435.4 196.0,434.2 197.6,433.1 199.4,432.0 201.1,431.0 202.9,430.3 204.8,429.7 206.7,429.3 208.7,428.9 210.7,428.5 212.7,428.1 214.6,427.5 216.5,426.9 218.4,426.2 220.3,425.5 222.2,424.8 224.1,424.2 226.0,423.8 228.0,423.4 230.0,423.0 231.9,422.6 233.9,422.3 235.9,421.8 237.8,421.3 239.7,420.6 241.6,419.9 243.5,419.2 245.3,418.6 247.3,418.0 249.2,417.5 251.2,417.1 253.1,416.6 255.1,416.2 257.0,415.8 259.0,415.4 261.0,414.9 262.9,414.4 264.8,413.9 266.8,413.4 268.7,412.8 270.6,412.3 272.5,411.7 274.5,411.1 276.4,410.6 278.3,410.0 280.2,409.5 282.2,408.9 284.1,408.3 286.0,407.8 287.9,407.2 289.9,406.7 291.8,406.1 293.7,405.6 295.6,405.0 297.6,404.4 299.5,403.9 301.4,403.3 303.3,402.7 305.2,402.2 307.2,401.6 309.1,401.1 311.0,400.5 313.0,400.0 314.9,399.5 316.8,398.9 318.8,398.4 320.7,397.9 322.6,397.3 324.5,396.7 326.4,396.1 328.3,395.4 330.2,394.8 332.1,394.1 334.0,393.4 335.9,392.8 337.8,392.1 339.6,391.4 341.5,390.7 343.4,390.0 345.3,389.4 347.2,388.7 349.1,388.0 351.0,387.4 352.9,386.7 354.8,386.0 356.7,385.4 358.5,384.7 360.4,384.0 362.3,383.4 364.2,382.7 366.1,382.1 368.0,381.4 369.9,380.8 371.8,380.2 373.7,379.5 375.6,378.9 377.5,378.3 379.5,377.7 381.4,377.1 383.3,376.5 385.2,375.9 387.1,375.2 389.0,374.6 390.9,373.9 392.8,373.3 394.6,372.6 396.5,371.9 398.4,371.2 400.3,370.5 402.1,369.8 404.0,369.1 405.9,368.3 407.8,367.6 409.6,366.9 411.5,366.2 413.4,365.6 415.3,364.9 417.2,364.2 419.1,363.5 421.0,362.9 422.9,362.2 424.8,361.6 426.6,360.9 428.5,360.3 430.4,359.6 432.3,358.9 434.2,358.3 436.1,357.6 438.0,357.0 439.9,356.3 441.8,355.7 443.7,355.0 445.6,354.4 447.5,353.7 449.4,353.1 451.3,352.4 453.2,351.7 455.1,351.0 456.9,350.4 458.8,349.7 460.7,348.9 462.5,348.2 464.4,347.4 466.2,346.7 468.1,345.9 469.9,345.1 471.8,344.3 473.6,343.6 475.5,342.8 477.3,342.0 479.2,341.3 481.1,340.5 482.9,339.8 484.8,339.0 486.6,338.2 488.5,337.5 490.3,336.8 492.2,336.0 494.1,335.3 496.0,334.6 497.8,333.9 499.7,333.3 501.6,332.6 503.5,332.0 505.4,331.3 507.3,330.7 509.2,330.0 511.1,329.4 513.0,328.7 514.9,328.1 516.8,327.4 518.7,326.7 520.5,326.0 522.4,325.3 524.3,324.5 526.1,323.8 528.0,323.1 529.9,322.3 531.7,321.6 533.6,320.8 535.4,320.1 537.3,319.3 539.1,318.5 541.0,317.7 542.8,317.0 544.7,316.2 546.5,315.4 548.4,314.6 550.2,313.8 552.0,313.0 553.9,312.1 555.7,311.3 557.5,310.5 559.3,309.6 561.1,308.7 562.9,307.8 564.7,307.0 566.5,306.0 568.3,305.1 570.0,304.2 571.8,303.2 573.5,302.3 575.3,301.3 577.1,300.3 578.8,299.3 580.5,298.3 582.3,297.3 584.0,296.3 585.7,295.3 587.5,294.3 589.2,293.3 590.9,292.3 592.6,291.2 594.4,290.2 596.1,289.1 597.8,288.0 599.4,287.0 601.1,285.9 602.8,284.8 604.5,283.7 606.1,282.6 607.8,281.4 609.5,280.3 611.1,279.1 612.7,278.0 614.4,276.8 616.0,275.6 617.6,274.4 619.1,273.2 620.7,272.0 622.3,270.7 623.8,269.4 625.4,268.2 626.9,266.9 628.5,265.6 630.0,264.2 631.5,262.9 633.0,261.6 634.4,260.2 635.9,258.8 637.3,257.4 638.7,256.0 640.1,254.6 641.5,253.1 642.9,251.7 644.3,250.2 645.6,248.7 646.9,247.2 648.3,245.7 649.6,244.2 650.9,242.7 652.2,241.1 653.5,239.6 654.7,238.1 656.0,236.5 657.2,234.9 658.5,233.4 659.7,231.8 660.9,230.2 662.1,228.5 663.3,226.9 664.5,225.3 665.6,223.6 666.7,222.0 667.7,220.3 668.8,218.6 669.8,216.8 670.7,215.1 671.7,213.3 672.6,211.5 673.6,209.8 674.5,208.0 675.4,206.2 676.4,204.4 677.3,202.6 678.2,200.9 679.1,199.1 680.0,197.3 680.9,195.5 681.8,193.7 682.6,191.9 683.5,190.0 684.3,188.2 685.1,186.4 685.9,184.5 686.7,182.7 687.4,180.8 688.1,178.9 688.6,177.0 689.2,175.1 689.7,173.2 690.2,171.2 690.7,169.3 691.3,167.3 691.8,165.4 692.3,163.5 692.7,161.5 693.2,159.6 693.7,157.6 694.3,155.7 694.8,153.8 695.3,151.8 695.9,149.9 696.6,148.0 697.2,146.1 697.9,144.2 698.6,142.3 699.3,140.5 700.0,138.6 711.2,136.0 711.9,137.9 712.7,139.7 713.4,141.6 714.2,143.4 714.9,145.3 715.7,147.1 716.5,149.0 717.2,150.8 718.0,152.7 718.8,154.5 719.6,156.4 720.4,158.2 721.2,160.0 722.0,161.9 722.7,163.7 723.4,165.6 724.1,167.5 724.8,169.4 725.4,171.3 726.1,173.2 726.7,175.1 727.3,177.0 728.0,178.9 728.6,180.8 729.2,182.7 729.8,184.6 730.4,186.5 731.0,188.4 731.6,190.3 732.2,192.2 732.8,194.1 733.4,196.0 734.1,197.9 734.7,199.9 735.3,201.8 735.9,203.7 736.5,205.6 737.1,207.5 737.7,209.4 738.2,211.3 738.8,213.2 739.4,215.2 740.0,217.1 740.5,219.0 741.0,220.9 741.6,222.9 742.1,224.8 742.6,226.7 743.1,228.7 743.6,230.6 744.1,232.6 744.5,234.5 745.0,236.5 745.5,238.4 746.0,240.3 746.4,242.3 746.9,244.2 747.4,246.2 747.8,248.1 748.3,250.1 748.8,252.0 749.3,254.0 749.7,255.9 750.2,257.9 750.7,259.8 751.1,261.8 751.5,263.7 752.0,265.7 752.4,267.6 752.8,269.6 753.2,271.5 753.6,273.5 754.0,275.5 754.4,277.4 754.8,279.4 755.2,281.4 755.6,283.3 756.0,285.3 756.4,287.2 756.8,289.2 757.2,291.2 757.6,293.1 758.0,295.1 758.4,297.1 758.8,299.0 759.1,301.0 759.5,303.0 759.9,304.9 760.2,306.9 760.5,308.9 760.9,310.9 761.2,312.8 761.5,314.8 761.8,316.8 762.1,318.8 762.4,320.7 762.6,322.7 762.9,324.7 763.2,326.7 763.5,328.7 763.7,330.7 764.0,332.7 764.3,334.6 764.5,336.6 764.8,338.6 765.0,340.6 765.3,342.6 765.5,344.6 765.8,346.6 766.1,348.5 766.3,350.5 766.5,352.5 766.8,354.5 767.0,356.5 767.3,358.5 767.5,360.5 767.7,362.5 767.9,364.5 768.1,366.4 768.3,368.4 768.5,370.4 768.6,372.4 768.8,374.4 769.0,376.4 769.1,378.4 769.2,380.4 769.4,382.4 769.5,384.4 769.6,386.4 769.8,388.4 769.9,390.4 770.0,392.4 770.2,394.4 770.3,396.4 770.5,398.4 770.6,400.4 770.8,402.4 771.0,404.4 771.1,406.4 771.3,408.4 771.5,410.4 771.6,412.4 771.8,414.4 772.0,416.4 772.2,418.3 772.3,420.3 772.5,422.3 772.7,424.3 772.9,426.3 773.1,428.3 773.3,430.3 773.4,432.3 773.6,434.3 773.8,436.3 774.0,438.3 774.2,440.3 774.4,442.3 774.6,444.3 774.8,446.3 775.0,448.3 775.2,450.3 775.4,452.3 775.6,454.3 775.8,456.2 776.0,458.2 776.2,460.2 776.5,462.2 776.7,464.2 777.0,466.2 777.2,468.2 777.5,470.1 777.9,472.1 778.2,474.0 778.7,476.0 779.1,477.9 779.6,479.9 780.1,481.8 780.7,483.8 781.2,485.7 781.8,487.6 782.3,489.6 782.9,491.5 783.4,493.4 783.9,495.4 784.4,497.3 784.9,499.2 785.3,501.2 785.8,503.1 786.3,505.1 786.8,507.0 787.3,509.0 787.7,510.9 788.2,512.9 788.7,514.8 789.2,517.7 790.4,519.7 791.8,520.6 794.2,520.8" fill="none" stroke="#00aa00" stroke-width="4.8" stroke-linejoin="miter"/>
</g>
<g id="frame" fill="none" stroke="#000">
<rect x="158.30" y="15.70" width="635.90" height="508.15" stroke-width="2.7"/>
<path d="M158.30,503.52h5.2M794.20,503.52h-5.2M158.30,483.20h5.2M794.20,483.20h-5.2M158.30,462.87h5.2M794.20,462.87h-5.2M158.30,442.55h5.2M794.20,442.55h-5.2M158.30,401.89h5.2M794.20,401.89h-5.2M158.30,381.57h5.2M794.20,381.57h-5.2M158.30,361.24h5.2M794.20,361.24h-5.2M158.30,340.92h5.2M794.20,340.92h-5.2M158.30,300.26h5.2M794.20,300.26h-5.2M158.30,279.94h5.2M794.20,279.94h-5.2M158.30,259.61h5.2M794.20,259.61h-5.2M158.30,239.29h5.2M794.20,239.29h-5.2M158.30,198.63h5.2M794.20,198.63h-5.2M158.30,178.31h5.2M794.20,178.31h-5.2M158.30,157.98h5.2M794.20,157.98h-5.2M158.30,137.66h5.2M794.20,137.66h-5.2M158.30,97.00h5.2M794.20,97.00h-5.2M158.30,76.68h5.2M794.20,76.68h-5.2M158.30,56.35h5.2M794.20,56.35h-5.2M158.30,36.03h5.2M794.20,36.03h-5.2" stroke-width="1.9"/>
<path d="M158.30,523.85h8.5M794.20,523.85h-8.5M158.30,422.22h8.5M794.20,422.22h-8.5M158.30,320.59h8.5M794.20,320.59h-8.5M158.30,218.96h8.5M794.20,218.96h-8.5M158.30,117.33h8.5M794.20,117.33h-8.5M158.30,15.70h8.5M794.20,15.70h-8.5" stroke-width="2.3"/>
<path d="M158.30,523.85v-6.5M158.30,15.70v6.5M196.58,523.85v-3.2M196.58,15.70v3.2M218.98,523.85v-3.2M218.98,15.70v3.2M234.87,523.85v-3.2M234.87,15.70v3.2M247.20,523.85v-3.2M247.20,15.70v3.2M257.27,523.85v-3.2M257.27,15.70v3.2M265.78,523.85v-3.2M265.78,15.70v3.2M273.15,523.85v-3.2M273.15,15.70v3.2M279.66,523.85v-3.2M279.66,15.70v3.2M285.48,523.85v-6.5M285.48,15.70v6.5M323.76,523.85v-3.2M323.76,15.70v3.2M346.16,523.85v-3.2M346.16,15.70v3.2M362.05,523.85v-3.2M362.05,15.70v3.2M374.38,523.85v-3.2M374.38,15.70v3.2M384.45,523.85v-3.2M384.45,15.70v3.2M392.96,523.85v-3.2M392.96,15.70v3.2M400.33,523.85v-3.2M400.33,15.70v3.2M406.84,523.85v-3.2M406.84,15.70v3.2M412.66,523.85v-6.5M412.66,15.70v6.5M450.94,523.85v-3.2M450.94,15.70v3.2M473.34,523.85v-3.2M473.34,15.70v3.2M489.23,523.85v-3.2M489.23,15.70v3.2M501.56,523.85v-3.2M501.56,15.70v3.2M511.63,523.85v-3.2M511.63,15.70v3.2M520.14,523.85v-3.2M520.14,15.70v3.2M527.51,523.85v-3.2M527.51,15.70v3.2M534.02,523.85v-3.2M534.02,15.70v3.2M539.84,523.85v-6.5M539.84,15.70v6.5M578.12,523.85v-3.2M578.12,15.70v3.2M600.52,523.85v-3.2M600.52,15.70v3.2M616.41,523.85v-3.2M616.41,15.70v3.2M628.74,523.85v-3.2M628.74,15.70v3.2M638.81,523.85v-3.2M638.81,15.70v3.2M647.32,523.85v-3.2M647.32,15.70v3.2M654.69,523.85v-3.2M654.69,15.70v3.2M661.20,523.85v-3.2M661.20,15.70v3.2M667.02,523.85v-6.5M667.02,15.70v6.5M705.30,523.85v-3.2M705.30,15.70v3.2M727.70,523.85v-3.2M727.70,15.70v3.2M743.59,523.85v-3.2M743.59,15.70v3.2M755.92,523.85v-3.2M755.92,15.70v3.2M765.99,523.85v-3.2M765.99,15.70v3.2M774.50,523.85v-3.2M774.50,15.70v3.2M781.87,523.85v-3.2M781.87,15.70v3.2M788.38,523.85v-3.2M788.38,15.70v3.2M794.20,523.85v-6.5M794.20,15.70v6.5" stroke="#777" stroke-width="0.7"/>
</g>
<g id="labels">
<text transform="translate(93.63,532.15) scale(1.0150,1)" font-size="32">0.00</text>
<text transform="translate(93.63,430.52) scale(1.0150,1)" font-size="32">0.05</text>
<text transform="translate(93.63,328.89) scale(1.0150,1)" font-size="32">0.10</text>
<text transform="translate(93.63,227.26) scale(1.0150,1)" font-size="32">0.15</text>
<text transform="translate(93.63,125.63) scale(1.0150,1)" font-size="32">0.20</text>
<text transform="translate(93.63,24.00) scale(1.0150,1)" font-size="32">0.25</text>
<text transform="translate(374.74,555.20) scale(1.0095,1)" font-size="32">0.001</text>
<text transform="translate(502.62,555.20) scale(1.0259,1)" font-size="32">0.010</text>
<text transform="translate(628.91,555.20) scale(1.0288,1)" font-size="32">0.100</text>
<text x="786.45" y="555.20" font-size="32">1</text>
<text transform="translate(129.14,558.60) scale(1.0036,1)" font-size="32">10</text>
<text transform="translate(160.90,548.50) scale(1.0952,1)" font-size="22.5">−</text>
<text x="174.25" y="547.00" font-size="22.5">5</text>
<text transform="translate(256.32,558.60) scale(1.0036,1)" font-size="32">10</text>
<text transform="translate(288.08,548.50) scale(1.0952,1)" font-size="22.5">−</text>
<text x="302.18" y="547.00" font-size="22.5">4</text>
<text x="190.80" y="66.60" font-size="32" font-weight="bold">Heavy Hemisphere Groomed Mass</text>
<text transform="translate(189.13,112.00) scale(1.0081,1)" font-size="32">Soft Drop</text>
<text x="318.45" y="112.00" font-size="32">,</text>
<text x="333.35" y="112.00" font-size="32">z</text>
<text transform="translate(346.34,116.70) scale(1.0151,1)" font-size="22.5">cut</text>
<text transform="translate(412.59,112.00) scale(0.9660,1)" font-size="32">0.1</text>
<text x="455.15" y="112.00" font-size="32">,</text>
<text transform="translate(470.44,112.00) scale(1.0848,1)" font-size="32" font-style="italic">β</text>
<text transform="translate(523.45,112.00) scale(1.0815,1)" font-size="32">0</text>
<text x="190.85" y="157.40" font-size="32">1 TeV</text>
<text x="272.25" y="157.40" font-size="32">,</text>
<text x="286.75" y="157.40" font-size="32">e</text>
<text x="315.95" y="157.40" font-size="32">e</text>
<text transform="translate(380.74,157.40) scale(1.0060,1)" font-size="32">dijets</text>
<text transform="translate(271.61,198.20) scale(0.9884,1)" font-size="32">Herwig</text>
<text transform="translate(416.70,198.20) scale(0.9990,1)" font-size="32">(no had)</text>
<text transform="translate(271.61,238.80) scale(0.9884,1)" font-size="32">Herwig</text>
<text transform="translate(416.70,238.80) scale(0.9969,1)" font-size="32">(had)</text>
<text transform="translate(271.89,279.00) scale(1.0116,1)" font-size="32">NNLL</text>
<text transform="translate(375.27,279.00) scale(1.0289,1)" font-size="32">NNLO</text>
<g fill="none" stroke="#000"><path d="M386.50,101.00H403.30M386.50,107.70H403.30" stroke-width="2.00"/><path d="M497.30,101.00H515.00M497.30,107.70H515.00" stroke-width="2.00"/><path d="M302.40,140.60H313.80M308.10,135.10V146.10" stroke-width="1.60"/><path d="M333.00,140.60H344.20" stroke-width="1.60"/><path d="M349.2,148.7H370.8M364.3,142.9Q366.5,147.2 371.4,148.7Q366.5,150.2 364.3,154.5" stroke-width="1.8" stroke-linejoin="miter"/><path d="M369.90,190.30H387.80M378.85,181.75V198.85" stroke-width="2.10"/><path d="M389.25,190.30H406.75M398.00,181.75V198.85" stroke-width="2.10"/><path d="M369.90,230.90H387.80M378.85,222.35V239.45" stroke-width="2.10"/><path d="M389.25,230.90H406.75M398.00,222.35V239.45" stroke-width="2.10"/><path d="M358.00,271.10H375.00M366.50,262.55V279.65" stroke-width="2.10"/></g></g>
<path d="M189.8,188.6H258.85" stroke="#ff0000" stroke-width="4.7" stroke-dasharray="14 4.2" fill="none"/>
<path d="M189.8,229H254.5" stroke="#0000ff" stroke-width="4.7" stroke-dasharray="7.1 4.4" fill="none"/>
<path d="M189.9,269.4H258.85" stroke="#00aa00" stroke-width="4.8" fill="none"/>
<g id="xlabel">
<text transform="translate(457.44,608.00) scale(1.0512,1)" font-size="32" font-style="italic">m</text>
<text transform="translate(480.16,596.90) scale(1.1444,1)" font-size="22.5">2</text>
<text transform="translate(457.84,657.60) scale(1.0602,1.0965)" font-size="32" font-style="italic">Q</text>
<text transform="translate(480.60,645.80) scale(1.1000,1)" font-size="22.5">2</text>
<path d="M457.9,622.8H495.9" stroke="#000" stroke-width="2"/>
</g>
<g id="ylabel" transform="translate(0,664) rotate(-90)">
<text transform="translate(342.24,27.20) scale(1.0049,1)" font-size="32" font-style="italic">m</text>
<text transform="translate(363.52,15.60) scale(1.1778,1)" font-size="22.5">2</text>
<text transform="translate(397.02,27.20) scale(1.0246,1)" font-size="32">d</text>
<text transform="translate(412.15,27.20) scale(1.3460,1)" font-size="32" font-style="italic">σ</text>
<text transform="translate(342.20,75.80) scale(1.3016,1)" font-size="32" font-style="italic">σ</text>
<text transform="translate(364.96,78.80) scale(0.9846,1)" font-size="22.5">0</text>
<text transform="translate(387.57,76.70) scale(1.0333,1)" font-size="32" font-style="italic">d</text>
<text transform="translate(406.64,76.70) scale(1.0049,1)" font-size="32" font-style="italic">m</text>
<text transform="translate(427.92,64.80) scale(1.1778,1)" font-size="22.5">2</text>
<path d="M342.9,42.1H380.0 M387.7,42.1H447.5" stroke="#000" stroke-width="2"/>
</g>
</svg>
</body></html>
